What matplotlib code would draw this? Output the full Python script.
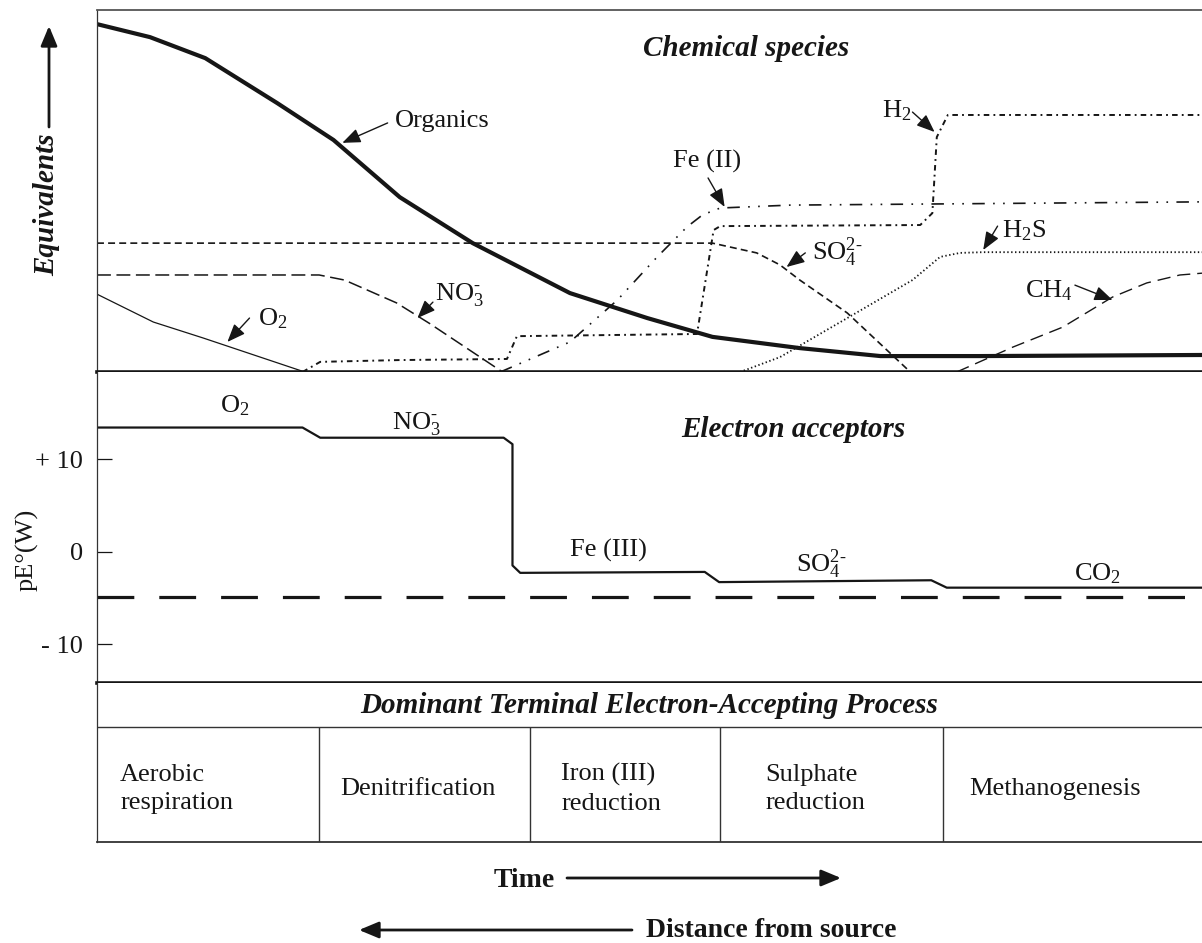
import matplotlib
matplotlib.use('Agg')
import matplotlib.pyplot as plt

# ---------------- data (time axis 0..100, equivalents 0..100, pE units) -------------
org_t = [0, 4.8, 9.8, 16.3, 21.4, 27.4, 34.0, 42.8, 49.8, 55.7, 63.6, 70.9, 79.9, 100]
org_eq = [96.1, 92.5, 86.7, 74.3, 64.1, 48.3, 35.6, 21.8, 14.9, 9.7, 6.6, 4.4, 4.4, 4.7]

o2_t = [0, 5.1, 9.6, 18.8]
o2_eq = [21.5, 13.8, 9.4, 0]

no3_t = [0, 20.1, 22.4, 27.1, 30.1, 36.7]
no3_eq = [26.8, 26.8, 25.4, 19.1, 13.4, 0]

so4_t = [0, 55.7, 59.7, 61.8, 63.6, 67.9, 73.6]
so4_eq = [35.6, 35.6, 32.9, 29.6, 25.4, 16.3, 0]

fe2_t = [36.5, 42.8, 47.1, 50.7, 53.4, 54.8, 56.4, 62.7, 100]
fe2_eq = [0, 8.3, 19.9, 31.8, 40.1, 43.4, 45.3, 46.1, 47.0]

h2_t = [18.6, 20.2, 27.4, 37.1, 38.0, 54.3, 55.8, 56.4, 74.5, 75.6, 76.0, 77.0, 100]
h2_eq = [0, 2.8, 3.3, 3.6, 9.9, 10.5, 39.2, 40.3, 40.6, 43.9, 64.9, 71.0, 71.0]

h2s_t = [58.2, 61.8, 67.9, 73.8, 76.3, 78.1, 80.2, 100]
h2s_eq = [0, 4.1, 14.9, 25.4, 31.8, 32.9, 33.1, 33.1]

ch4_t = [77.8, 82.9, 87.4, 91.9, 95.0, 98.0, 100]
ch4_eq = [0, 6.9, 12.4, 20.7, 24.6, 26.8, 27.3]

acc_t = [0, 18.6, 20.2, 36.8, 37.6, 37.6, 38.3, 55.0, 56.3, 75.5, 76.9, 100]
acc_pe = [13.4, 13.4, 12.3, 12.3, 11.6, -1.5, -2.3, -2.2, -3.3, -3.1, -3.9, -3.9]
water_pe = -4.9

pe_ticks = [10, 0, -10]
pe_ticklabels = ['+ 10', '0', '- 10']

zone_bounds = [20.1, 39.2, 56.4, 76.6]
zone_names = ['Aerobic\nrespiration', 'Denitrification', 'Iron (III)\nreduction',
              'Sulphate\nreduction', 'Methanogenesis']
zone_text_x = [2.1, 22.0, 42.0, 60.5, 78.9]

# ---------------- style -------------
plt.rcParams['font.family'] = ['Liberation Serif', 'DejaVu Serif']
plt.rcParams['mathtext.fontset'] = 'custom'
plt.rcParams['mathtext.rm'] = 'Liberation Serif'
plt.rcParams['mathtext.it'] = 'Liberation Serif:italic'
plt.rcParams['mathtext.bf'] = 'Liberation Serif:bold'
plt.rcParams['lines.scale_dashes'] = False

K = '#161616'
W, H = 1202, 943
fig = plt.figure(figsize=(W / 100, H / 100), dpi=100)

def fx(px):
    return px / W

def fy(py):
    return 1 - py / H

left = fx(97)
ax1 = fig.add_axes([left, fy(372), 1 - left, fy(10) - fy(372)])
ax2 = fig.add_axes([left, fy(683), 1 - left, fy(372) - fy(683)])
ax3 = fig.add_axes([left, fy(842), 1 - left, fy(683) - fy(842)])

# ---------------- top panel -------------
ax1.set_xlim(0, 100)
ax1.set_ylim(0, 100)
ax1.set_xticks([])
ax1.set_yticks([])
ax1.spines['right'].set_visible(False)
ax1.spines['top'].set_linewidth(1.3)
ax1.spines['top'].set_color('#555555')
ax1.spines['left'].set_linewidth(0.9)
ax1.spines['left'].set_color('#333333')
ax1.spines['bottom'].set_linewidth(2.6)
ax1.spines['bottom'].set_color(K)

ax1.plot(org_t, org_eq, color=K, lw=3.0, solid_joinstyle='round')
ax1.plot(o2_t, o2_eq, color=K, lw=0.9)
ax1.plot(no3_t, no3_eq, color=K, lw=1.1, ls=(0, (10, 4)))
ax1.plot(so4_t, so4_eq, color=K, lw=1.2, ls=(0, (5, 3)))
ax1.plot(fe2_t, fe2_eq, color=K, lw=1.2, ls=(0, (9, 6, 1.2, 6, 1.2, 6)))
ax1.plot(h2_t, h2_eq, color=K, lw=1.4, ls=(0, (4, 3, 1.3, 3)))
ax1.plot(h2s_t, h2s_eq, color=K, lw=1.3, ls=(0, (1, 1.8)))
ax1.plot(ch4_t, ch4_eq, color=K, lw=1.0, ls=(0, (9.5, 5)))

arrow = dict(arrowstyle='-|>,head_length=0.55,head_width=0.22', color=K, lw=1.0,
             mutation_scale=20, shrinkA=0, shrinkB=0)
FS = 19

def note(ax, text, tx, ty, tail, head, ha='left'):
    ax.text(tx, ty, text, ha=ha, va='baseline', fontsize=FS, color=K)
    ax.annotate('', xy=head, xytext=tail, arrowprops=arrow)

NO3 = r'NO$_3^{\text{-}}$'
SO4 = r'SO$_4^{2\text{-}}$'

note(ax1, 'Organics', 27.0, 67.7, (26.3, 68.8), (22.2, 63.3))
note(ax1, 'O$_2$', 14.6, 13.0, (13.8, 14.9), (11.8, 8.3))
note(ax1, NO3, 30.6, 19.9, (30.4, 19.3), (29.0, 14.9))
note(ax1, 'Fe (II)', 55.2, 56.6, (55.3, 53.6), (56.8, 45.6), ha='center')
note(ax1, SO4, 64.7, 30.9, (64.1, 32.9), (62.4, 29.0))
note(ax1, 'H$_2$', 71.0, 70.4, (73.8, 71.8), (75.8, 66.3))
note(ax1, 'H$_2$S', 81.9, 37.3, (81.5, 40.3), (80.2, 33.7))
note(ax1, 'CH$_4$', 84.0, 20.7, (88.5, 24.0), (91.9, 19.9))

ax1.text(58.7, 87.2, 'Chemical species', ha='center', va='baseline', fontsize=21,
         fontweight='bold', fontstyle='italic', color=K)

# ---------------- bottom panel -------------
ax2.set_xlim(0, 100)
ax2.set_ylim(-14.2, 19.4)
ax2.set_xticks([])
ax2.set_yticks(pe_ticks)
ax2.set_yticklabels(pe_ticklabels)
ax2.tick_params(axis='y', direction='in', length=11, width=0.9, pad=10,
                labelsize=FS, colors=K)
ax2.spines['right'].set_visible(False)
ax2.spines['top'].set_visible(False)
ax2.spines['left'].set_linewidth(0.9)
ax2.spines['left'].set_color('#333333')
ax2.spines['bottom'].set_linewidth(2.6)
ax2.spines['bottom'].set_color(K)

ax2.plot(acc_t, acc_pe, color=K, lw=1.6)
ax2.axhline(water_pe, color=K, lw=2.3, ls=(0, (26.5, 18)))

ax2.text(11.1, 15.0, 'O$_2$', fontsize=FS, va='baseline', color=K)
ax2.text(26.7, 13.2, NO3, fontsize=FS, va='baseline', color=K)
ax2.text(42.8, -0.5, 'Fe (III)', fontsize=FS, va='baseline', color=K)
ax2.text(63.3, -2.2, SO4, fontsize=FS, va='baseline', color=K)
ax2.text(88.4, -3.1, 'CO$_2$', fontsize=FS, va='baseline', color=K)
ax2.text(63.0, 12.4, 'Electron acceptors', ha='center', va='baseline', fontsize=21,
         fontweight='bold', fontstyle='italic', color=K)

fig.text(fx(27), fy(550), 'pE°(W)', rotation=90, ha='center', va='center',
         fontsize=FS, color=K)

# ---------------- table -------------
ax3.set_xlim(0, 100)
ax3.set_ylim(0, 1)
ax3.set_xticks([])
ax3.set_yticks([])
ax3.spines['right'].set_visible(False)
ax3.spines['top'].set_visible(False)
ax3.spines['left'].set_linewidth(0.9)
ax3.spines['left'].set_color('#333333')
ax3.spines['bottom'].set_linewidth(1.3)
ax3.spines['bottom'].set_color('#333333')
ax3.axhline(0.723, color='#333333', lw=1.0)
ax3.vlines(zone_bounds, 0, 0.723, color='#333333', lw=1.0)
ax3.text(50, 0.809, 'Dominant Terminal Electron-Accepting Process', ha='center',
         va='baseline', fontsize=21, fontweight='bold', fontstyle='italic', color=K)
for name, xt in zip(zone_names, zone_text_x):
    ax3.text(xt, 0.335, name, ha='left', va='center', fontsize=FS, color=K,
             linespacing=1.38)

# ---------------- outside labels -------------
fig.text(fx(47), fy(205), 'Equivalents', rotation=90, ha='center', va='center',
         fontsize=21, fontweight='bold', fontstyle='italic', color=K)
big_arrow = dict(arrowstyle='-|>,head_length=0.6,head_width=0.25', color=K, lw=2.0,
                 mutation_scale=20, shrinkA=0, shrinkB=0)
fig.add_artist(plt.Annotation('', xy=(fx(49), fy(26)), xytext=(fx(49), fy(127)),
                              xycoords='figure fraction', arrowprops=big_arrow))

fig.text(fx(555), fy(887), 'Time', ha='right', va='baseline', fontsize=20,
         fontweight='bold', color=K)
fig.add_artist(plt.Annotation('', xy=(fx(841), fy(878)), xytext=(fx(567), fy(878)),
                              xycoords='figure fraction', arrowprops=big_arrow))
fig.text(fx(646), fy(937), 'Distance from source', ha='left', va='baseline',
         fontsize=20, fontweight='bold', color=K)
fig.add_artist(plt.Annotation('', xy=(fx(359), fy(930)), xytext=(fx(632), fy(930)),
                              xycoords='figure fraction', arrowprops=big_arrow))

fig.savefig('out.png', dpi=100)
